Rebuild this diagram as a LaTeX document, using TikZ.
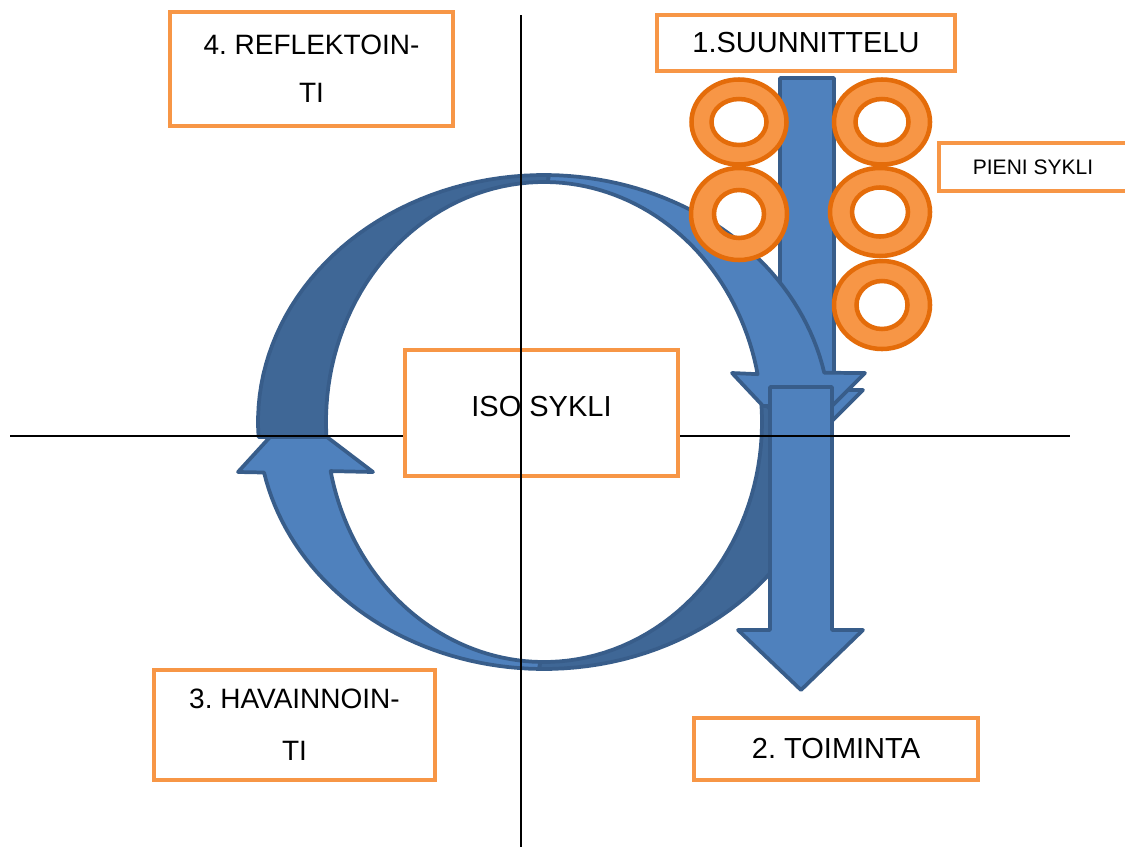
\documentclass[tikz,border=0pt]{standalone}
\usepackage{fontspec}
\setmainfont{Liberation Sans}
\usepackage{xcolor}
\frenchspacing

\definecolor{boxorange}{RGB}{247,150,70}
\definecolor{ringedge}{RGB}{228,108,10}
\definecolor{arrowblue}{RGB}{79,129,189}
\definecolor{arrowedge}{RGB}{56,93,138}
\definecolor{backblue}{RGB}{63,103,150}

\begin{document}
\begin{tikzpicture}[
		x=0.75pt, y=-0.75pt,
		phase/.style = {draw=boxorange, line width=3pt, fill=white, align=center, inner sep=0pt, font=\fontsize{21.75}{36}\selectfont},
		front/.style = {fill=arrowblue, draw=arrowedge, line width=2.8pt, line join=round},
		back/.style = {fill=backblue, draw=arrowedge, line width=2.8pt, line join=round},
		ring/.style = {fill=boxorange, draw=ringedge, line width=3.4pt, even odd rule},
		axis/.style = {draw=black, line width=1.3pt}
		]
		
		\useasboundingbox (0,0) rectangle (1125,847);
		
		% dark (back) quarters of the big cycle
		\path [back] plot[domain=183.5:89, samples=40] ({544+286*cos(\x)},{422-247*sin(\x)})
			-- plot[domain=89:183.5, samples=40] ({544+218*cos(\x)},{422-240*sin(\x)}) -- cycle;
		\path [back] plot[domain=4:-91, samples=40] ({544+286*cos(\x)},{422-247*sin(\x)})
			-- plot[domain=-91:4, samples=40] ({544+218*cos(\x)},{422-240*sin(\x)}) -- cycle;
		
		% small cycle arrow, upper part
		\path [front] (780,78) -- (834,78) -- (834,390) -- (863,390) -- (807,446) -- (751,390) -- (780,390) -- cycle;
		
		% light (front) quarters with heads
		\path [front] plot[domain=89:11.5, samples=40] ({544+286*cos(\x)},{422-247*sin(\x)})
			-- (865,373) -- (832,406) -- (763,406) -- (732,373)
			-- plot[domain=11.5:89, samples=40] ({544+218*cos(\x)},{422-240*sin(\x)}) -- cycle;
		\path [front] plot[domain=269:191.8, samples=40] ({544+286*cos(\x)},{422-247*sin(\x)})
			-- (238,472) -- (270,437) -- (327,437) -- (373,472)
			-- plot[domain=191.8:269, samples=40] ({544+218*cos(\x)},{422-240*sin(\x)}) -- cycle;
		
		% small cycle arrow, lower part
		\path [front] (770,387) -- (832,387) -- (832,630) -- (863,630) -- (801,690) -- (738,630) -- (770,630) -- cycle;
		
		% rings of the small cycle
		\foreach \cx/\cy/\ra/\rb/\ia/\ib in {739/122/47.5/42.5/27.5/23, 739/214/48/46/25/24,
			882/122/48/42.5/26.5/23, 880/212/50/44/28/24.5, 882/305/48/44/25.5/24}
		\path [ring] (\cx,\cy) ellipse [x radius=\ra, y radius=\rb]
			(\cx,\cy) ellipse [x radius=\ia, y radius=\ib];
		
		\coordinate (west) at (10,436);
		\coordinate (east) at (1070,436);
		\coordinate (top) at (521,15);
		\coordinate (bottom) at (521,847);
		
		\draw [axis] (west) -- (east);
		\node [phase, minimum width=204.75pt, minimum height=94.5pt, text depth=10.5pt] (iso) at (541.5,413) {ISO SYKLI};
		\draw [axis] (top) -- (bottom);
		
		\node [phase, minimum width=223.5pt, minimum height=42pt] (plan) at (806,43) {1.SUUNNITTELU};
		\node [phase, minimum width=213pt, minimum height=46.5pt] (act) at (836,749) {2. TOIMINTA};
		\node [phase, minimum width=210.75pt, minimum height=82.5pt, font=\fontsize{21}{39}\selectfont] (obs) at (294.5,725) {3. HAVAINNOIN-\\TI};
		\node [phase, minimum width=212.25pt, minimum height=85.5pt, font=\fontsize{21}{36}\selectfont] (refl) at (311.5,69) {4. REFLEKTOIN-\\TI};
		\node [phase, minimum width=141pt, minimum height=36pt, font=\fontsize{15.75}{18}\selectfont] (small) at (1033,167) {PIENI SYKLI};
		
	\end{tikzpicture}
\end{document}
